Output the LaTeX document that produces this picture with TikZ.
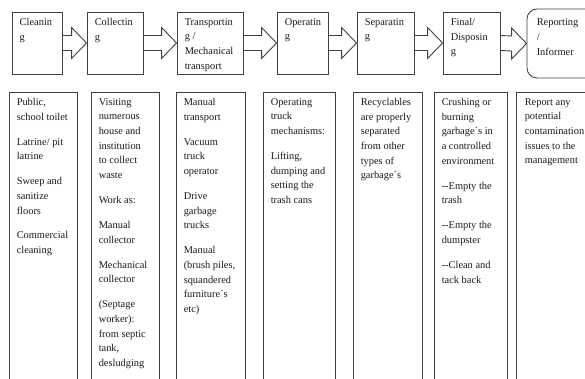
\documentclass[tikz,border=0pt]{standalone}
\usepackage{fontspec}
\setmainfont{Liberation Serif}
\usepackage{tikz}
\usetikzlibrary{calc}
\definecolor{boxline}{HTML}{404040}
\definecolor{inktext}{HTML}{1A1A1A}
\newcommand{\stagefont}{\fontsize{10.4}{14.7}\selectfont}
% block arrow from the right side of one stage box to the left side of the next
\newcommand{\stagearrow}[2]{%
  \draw[flow] ($(#1.east)+(0,-7.5)$) -- ($(#2.west)+(-15,-7.5)$) -- ++(0,-8)
    -- (#2.west) -- ++(-15,15.5) -- ++(0,-8) -- ($(#1.east)+(0,7.5)$);}

\begin{document}
\begin{tikzpicture}[x=1pt,y=-1pt,
    stage/.style={draw=boxline, line width=0.9pt, minimum height=62, inner sep=0pt},
    duty/.style={draw=boxline, line width=0.9pt, minimum height=290, inner sep=0pt},
    flow/.style={draw=boxline, line width=0.9pt},
    txt/.style={anchor=north west, inner sep=0pt, align=left,
                font=\stagefont, text=inktext}]
  \useasboundingbox (0,0) rectangle (585,379);
  \clip (0,0) rectangle (585,379);

  % ================= row 1: the stages =================
  \foreach \n/\l/\r in {cleaning/12/62, collecting/87/143, transporting/177/243,
                        operating/277/328, separating/357/414, disposing/443/500}{
    \node[stage, minimum width=\r-\l] (\n) at ({(\l+\r)/2},43) {};}
  \node[stage, rounded corners=10pt, minimum width=73, minimum height=69]
    (reporting) at (563.5,43.5) {};

  \foreach \a/\b in {cleaning/collecting, collecting/transporting,
                     transporting/operating, operating/separating,
                     separating/disposing, disposing/reporting}{
    \stagearrow{\a}{\b}}

  \node[txt] (cleaning-lbl) at ([shift={(8,6.5)}]cleaning.north west) {Cleanin\\g};
  \node[txt] (collecting-lbl) at ([shift={(8,6.5)}]collecting.north west) {Collectin\\g};
  \node[txt] (transporting-lbl) at ([shift={(8,6.5)}]transporting.north west)
    {Transportin\\g /\\Mechanical\\transport};
  \node[txt] (operating-lbl) at ([shift={(8,6.5)}]operating.north west) {Operatin\\g};
  \node[txt] (separating-lbl) at ([shift={(8,6.5)}]separating.north west) {Separatin\\g};
  \node[txt] (disposing-lbl) at ([shift={(8,6.5)}]disposing.north west) {Final/\\Disposin\\g};
  \node[txt] (reporting-lbl) at ([shift={(10,10.2)}]reporting.north west) {Reporting\\/\\Informer};

  % ================= row 2: the tasks of each stage =================
  \foreach \n/\l/\r in {cleaning/9/77, collecting/91/159, transporting/176/245,
                        operating/263/335, separating/353/422, disposing/434/507,
                        reporting/516/600}{
    \node[duty, minimum width=\r-\l] (\n-duty) at ({(\l+\r)/2},237) {};}

  \node[txt] (cleaning-txt) at ([shift={(8,6.5)}]cleaning-duty.north west)
    {Public,\\school toilet\\[10.2pt]Latrine/ pit\\latrine\\[10.2pt]Sweep and\\sanitize\\floors\\[10.2pt]Commercial\\cleaning};
  \node[txt] (collecting-txt) at ([shift={(8,6.5)}]collecting-duty.north west)
    {Visiting\\numerous\\house and\\institution\\to collect\\waste\\[10.2pt]Work as:\\[10.2pt]Manual\\collector\\[10.2pt]Mechanical\\collector\\[10.2pt](Septage\\worker):\\from septic\\tank,\\desludging};
  \node[txt] (transporting-txt) at ([shift={(8,6.5)}]transporting-duty.north west)
    {Manual\\transport\\[10.2pt]Vacuum\\truck\\operator\\[10.2pt]Drive\\garbage\\trucks\\[10.2pt]Manual\\(brush piles,\\squandered\\furniture´s\\etc)};
  \node[txt] (operating-txt) at ([shift={(8,6.5)}]operating-duty.north west)
    {Operating\\truck\\mechanisms:\\[10.2pt]Lifting,\\dumping and\\setting the\\trash cans};
  \node[txt] (separating-txt) at ([shift={(8,6.5)}]separating-duty.north west)
    {Recyclables\\are properly\\separated\\from other\\types of\\garbage´s};
  \node[txt] (disposing-txt) at ([shift={(8,6.5)}]disposing-duty.north west)
    {Crushing or\\burning\\garbage´s in\\a controlled\\environment\\[10.2pt]-{}-Empty the\\trash\\[10.2pt]-{}-Empty the\\dumpster\\[10.2pt]-{}-Clean and\\tack back};
  \node[txt] (reporting-txt) at ([shift={(9,6.5)}]reporting-duty.north west)
    {Report any\\potential\\contamination\\issues to the\\management};
\end{tikzpicture}
\end{document}
